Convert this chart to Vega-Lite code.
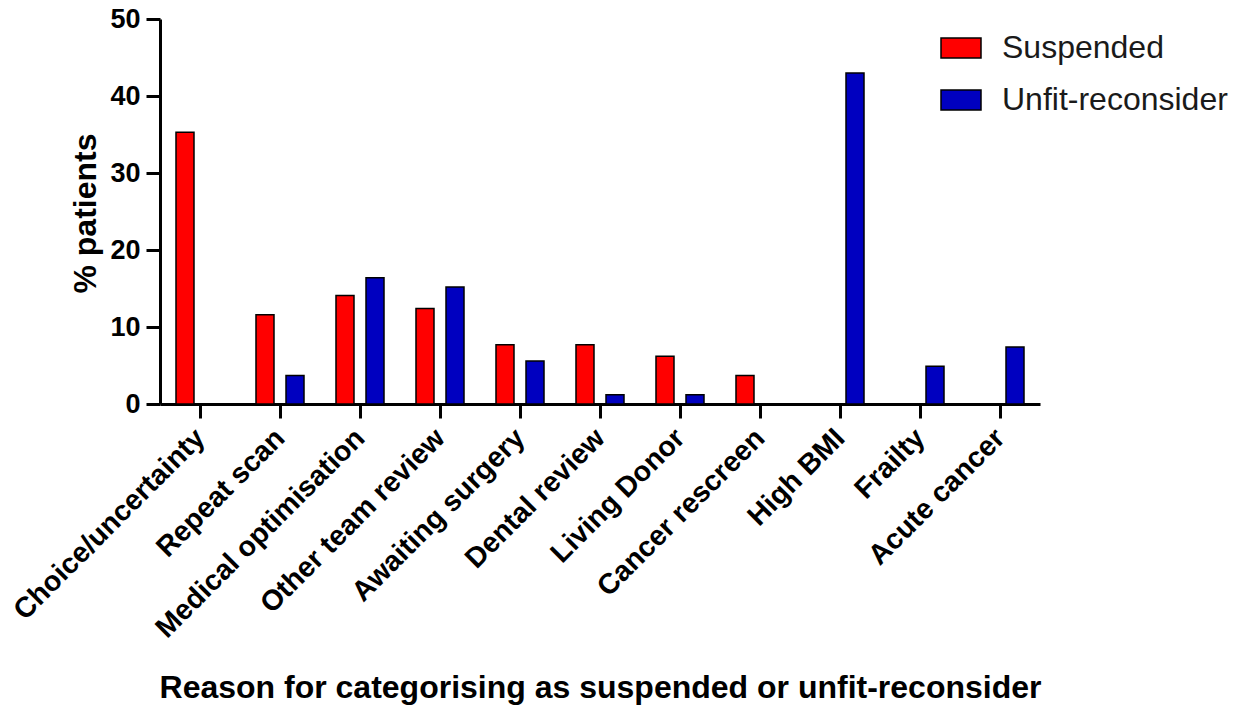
{
  "$schema": "https://vega.github.io/schema/vega-lite/v6.json",
  "width": 880,
  "height": 385,
  "autosize": {"type": "none"},
  "padding": {"left": 160, "top": 19, "right": 210, "bottom": 302},
  "background": "white",
  "config": {
    "view": {"stroke": null},
    "font": "Liberation Sans"
  },
  "data": {
    "values": [
      {"reason": "Choice/uncertainty", "group": "Suspended", "pct": 35.3},
      {"reason": "Choice/uncertainty", "group": "Unfit-reconsider", "pct": 0},
      {"reason": "Repeat scan", "group": "Suspended", "pct": 11.6},
      {"reason": "Repeat scan", "group": "Unfit-reconsider", "pct": 3.7},
      {"reason": "Medical optimisation", "group": "Suspended", "pct": 14.1},
      {"reason": "Medical optimisation", "group": "Unfit-reconsider", "pct": 16.4},
      {"reason": "Other team review", "group": "Suspended", "pct": 12.4},
      {"reason": "Other team review", "group": "Unfit-reconsider", "pct": 15.2},
      {"reason": "Awaiting surgery", "group": "Suspended", "pct": 7.7},
      {"reason": "Awaiting surgery", "group": "Unfit-reconsider", "pct": 5.6},
      {"reason": "Dental review", "group": "Suspended", "pct": 7.7},
      {"reason": "Dental review", "group": "Unfit-reconsider", "pct": 1.2},
      {"reason": "Living Donor", "group": "Suspended", "pct": 6.2},
      {"reason": "Living Donor", "group": "Unfit-reconsider", "pct": 1.2},
      {"reason": "Cancer rescreen", "group": "Suspended", "pct": 3.7},
      {"reason": "Cancer rescreen", "group": "Unfit-reconsider", "pct": 0},
      {"reason": "High BMI", "group": "Suspended", "pct": 0},
      {"reason": "High BMI", "group": "Unfit-reconsider", "pct": 43.0},
      {"reason": "Frailty", "group": "Suspended", "pct": 0},
      {"reason": "Frailty", "group": "Unfit-reconsider", "pct": 4.9},
      {"reason": "Acute cancer", "group": "Suspended", "pct": 0},
      {"reason": "Acute cancer", "group": "Unfit-reconsider", "pct": 7.4}
    ]
  },
  "mark": {"type": "bar", "stroke": "black", "strokeWidth": 1.5},
  "encoding": {
    "x": {
      "field": "reason",
      "type": "nominal",
      "sort": null,
      "scale": {"paddingInner": 0, "paddingOuter": 0},
      "axis": {
        "title": "Reason for categorising as suspended or unfit-reconsider",
        "titleFont": "Liberation Sans",
        "titleFontSize": 32,
        "titleFontWeight": "bold",
        "titleColor": "black",
        "titleY": 293,
        "titleBaseline": "alphabetic",
        "labelAngle": -45,
        "labelAlign": "right",
        "labelBaseline": "middle",
        "labelFontSize": 28.5,
        "labelFontWeight": "bold",
        "labelColor": "black",
        "labelPadding": 15,
        "labelLimit": 500,
        "tickSize": 14,
        "tickWidth": 3,
        "tickColor": "black",
        "domainWidth": 3,
        "domainColor": "black",
        "grid": false
      }
    },
    "xOffset": {
      "field": "group",
      "type": "nominal",
      "scale": {"domain": ["Suspended", "Unfit-reconsider"], "paddingInner": 0.4, "paddingOuter": 0.533}
    },
    "y": {
      "field": "pct",
      "type": "quantitative",
      "scale": {"domain": [0, 50], "nice": false},
      "axis": {
        "title": "% patients",
        "titleFont": "Liberation Sans",
        "titleFontSize": 32,
        "titleFontWeight": "bold",
        "titleColor": "black",
        "titleX": -58,
        "titleY": 194,
        "values": [0, 10, 20, 30, 40, 50],
        "labelFontSize": 27,
        "labelFontWeight": "bold",
        "labelColor": "black",
        "labelPadding": 6,
        "tickSize": 14,
        "tickWidth": 3,
        "tickColor": "black",
        "domainWidth": 3,
        "domainColor": "black",
        "grid": false
      }
    },
    "color": {
      "field": "group",
      "type": "nominal",
      "scale": {"domain": ["Suspended", "Unfit-reconsider"], "range": ["#ff0000", "#0000c0"]},
      "legend": {
        "title": null,
        "orient": "none",
        "legendX": 780,
        "legendY": 8,
        "symbolType": "M-1,-0.5H1V0.5H-1Z",
        "symbolSize": 1600,
        "symbolStrokeColor": "black",
        "symbolStrokeWidth": 1.5,
        "symbolOpacity": 1,
        "labelFont": "Liberation Sans",
        "labelFontSize": 32,
        "labelColor": "#1a1a1a",
        "labelOffset": 20,
        "labelLimit": 400,
        "rowPadding": 15
      }
    }
  }
}
